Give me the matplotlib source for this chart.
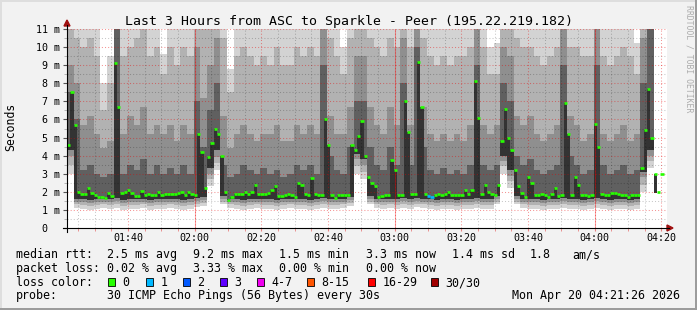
import numpy as np
import matplotlib
matplotlib.use("Agg")
import matplotlib.pyplot as plt
import matplotlib.transforms as mtransforms
from matplotlib.lines import Line2D
from matplotlib.patches import Rectangle, Polygon

W, H = 697, 310
BACK = "#f2f2f2"
plt.rcParams["font.family"] = ["DejaVu Sans Mono"]

# graph window: 01:21:40 .. 04:21:40, in minutes after midnight
START = 81 + 40 / 60.0
SPAN = 180

# median rtt (ms), one value per minute
median_ms = [
    4.6, 7.5, 5.7, 2.0, 1.88, 1.88, 2.2, 1.93, 1.82, 1.73,
    1.73, 1.65, 1.93, 1.75, 9.1, 6.7, 1.93, 2.0, 2.1, 1.93,
    1.75, 1.75, 2.05, 1.8, 1.9, 1.85, 1.8, 2.0, 1.85, 1.9,
    1.9, 1.9, 1.9, 1.95, 2.0, 1.85, 2.0, 1.9, 1.85, 5.2,
    4.2, 2.2, 3.9, 4.7, 5.5, 5.2, 4.0, 2.0, 1.55, 1.7,
    1.9, 1.9, 1.9, 2.0, 1.9, 2.0, 2.4, 1.9, 1.9, 1.9,
    1.95, 2.1, 2.3, 1.75, 1.75, 1.8, 1.9, 1.8, 1.7, 2.5,
    2.4, 1.9, 1.85, 2.75, 1.9, 1.85, 1.85, 6.0, 4.6, 1.85,
    1.65, 1.8, 1.85, 1.85, 1.8, 4.6, 4.3, 5.1, 5.9, 4.0,
    2.8, 2.5, 2.3, 1.7, 1.75, 1.8, 1.85, 3.75, 3.2, 1.85,
    1.85, 7.0, 5.3, 1.9, 1.9, 9.2, 6.7, 1.9, 1.75, 1.7,
    1.85, 1.9, 1.85, 1.9, 2.0, 1.85, 1.85, 1.8, 1.85, 2.1,
    1.9, 2.1, 8.1, 6.1, 1.9, 2.4, 2.0, 1.9, 1.85, 2.4,
    4.8, 6.6, 5.0, 4.3, 3.2, 2.3, 1.95, 1.7, 2.8, 2.5,
    1.85, 1.8, 1.9, 1.85, 1.7, 1.9, 2.2, 1.75, 1.85, 6.9,
    5.2, 1.85, 2.8, 2.4, 1.85, 1.85, 1.75, 1.8, 5.75, 4.5,
    1.9, 1.8, 1.85, 1.95, 1.95, 1.9, 1.85, 1.85, 1.7, 1.8,
    1.85, 1.85, 3.3, 5.4, 7.7, 5.0, 3.0, 2.0, 3.0, np.nan,
]
# lost pings per minute
loss = [0] * 108 + [1, 1] + [0] * 70

nan = np.nan
# smoke: ping spread per 2 minutes (ms), band edges from low to high
smoke_min = [
    3.0, 1.10, 1.05, 1.00, 1.05, 1.10, 1.05, 1.10, 1.00, 1.05,
    1.05, 1.10, 1.00, 1.05, 1.05, 1.10, 1.05, 1.00, 1.05, 1.15,
    1.20, 2.30, 3.20, 1.30, 1.10, 1.05, 1.00, 1.05, 1.10, 1.05,
    1.05, 1.00, 1.05, 1.10, 1.05, 1.05, 1.00, 1.05, 1.10, 1.05,
    1.05, 1.10, 1.20, 3.00, 2.70, 1.30, 1.10, 1.05, 1.10, 1.05,
    1.10, 1.05, 1.15, 1.10, 1.05, 1.00, 1.05, 1.05, 1.00, 1.05,
    1.05, 1.10, 1.05, 1.05, 1.30, 3.00, 2.20, 1.30, 1.10, 1.05,
    1.05, 1.00, 1.05, 1.05, 1.10, 1.05, 1.05, 1.00, 1.05, 1.10,
    1.05, 1.00, 1.05, 1.05, 1.00, 1.05, 2.00, 3.30, 1.60, nan,
]
smoke_lo1 = [
    3.5, 1.30, 1.25, 1.20, 1.25, 1.30, 1.25, 1.30, 1.20, 1.25,
    1.25, 1.30, 1.20, 1.25, 1.25, 1.30, 1.25, 1.20, 1.25, 1.35,
    1.40, 2.70, 3.60, 1.45, 1.30, 1.25, 1.20, 1.25, 1.30, 1.25,
    1.25, 1.20, 1.25, 1.30, 1.25, 1.25, 1.20, 1.25, 1.30, 1.25,
    1.25, 1.30, 1.40, 3.40, 3.10, 1.45, 1.30, 1.25, 1.30, 1.25,
    1.30, 1.25, 1.35, 1.30, 1.25, 1.20, 1.25, 1.25, 1.20, 1.25,
    1.25, 1.30, 1.25, 1.25, 1.45, 3.40, 2.60, 1.45, 1.30, 1.25,
    1.25, 1.20, 1.25, 1.25, 1.30, 1.25, 1.25, 1.20, 1.25, 1.30,
    1.25, 1.20, 1.25, 1.25, 1.20, 1.25, 2.40, 3.70, 1.75, nan,
]
smoke_lo2 = [
    4.0, 1.45, 1.42, 1.38, 1.42, 1.45, 1.42, 1.48, 1.38, 1.42,
    1.42, 1.45, 1.38, 1.42, 1.42, 1.45, 1.42, 1.38, 1.42, 1.50,
    1.55, 3.00, 3.90, 1.60, 1.45, 1.42, 1.38, 1.42, 1.45, 1.42,
    1.42, 1.38, 1.42, 1.45, 1.42, 1.42, 1.38, 1.42, 1.48, 1.42,
    1.42, 1.45, 1.55, 3.80, 3.50, 1.60, 1.45, 1.42, 1.45, 1.42,
    1.48, 1.42, 1.50, 1.45, 1.42, 1.38, 1.42, 1.42, 1.38, 1.42,
    1.42, 1.48, 1.42, 1.42, 1.60, 3.70, 2.90, 1.60, 1.45, 1.42,
    1.42, 1.38, 1.42, 1.42, 1.48, 1.42, 1.42, 1.38, 1.42, 1.48,
    1.42, 1.38, 1.42, 1.42, 1.38, 1.42, 2.80, 4.00, 1.85, nan,
]
smoke_lo3 = [
    4.3, 1.62, 1.60, 1.55, 1.60, 1.62, 1.58, 1.65, 1.55, 1.60,
    1.60, 1.62, 1.55, 1.60, 1.60, 1.62, 1.60, 1.55, 1.60, 1.68,
    1.72, 3.30, 4.30, 1.75, 1.62, 1.60, 1.55, 1.60, 1.62, 1.60,
    1.60, 1.55, 1.60, 1.62, 1.60, 1.60, 1.55, 1.60, 1.65, 1.60,
    1.60, 1.62, 1.72, 4.10, 3.80, 1.75, 1.62, 1.60, 1.62, 1.60,
    1.65, 1.60, 1.68, 1.62, 1.60, 1.55, 1.60, 1.60, 1.55, 1.60,
    1.60, 1.65, 1.60, 1.60, 1.75, 4.00, 3.20, 1.75, 1.62, 1.60,
    1.60, 1.55, 1.60, 1.60, 1.65, 1.60, 1.60, 1.55, 1.60, 1.65,
    1.60, 1.55, 1.60, 1.60, 1.55, 1.60, 3.10, 4.30, 1.95, nan,
]
smoke_hi3 = [
    7.5, 6.0, 3.2, 3.5, 3.0, 2.8, 3.0, 11.5, 3.0, 3.5,
    3.2, 3.8, 3.0, 3.5, 3.0, 3.3, 3.0, 3.5, 3.0, 7.0,
    4.5, 6.5, 8.0, 3.5, 2.8, 3.0, 3.5, 3.2, 3.0, 3.3,
    3.0, 3.2, 2.8, 3.0, 3.5, 3.2, 3.5, 3.0, 9.0, 4.0,
    3.2, 3.0, 4.5, 7.0, 7.0, 4.5, 3.5, 3.2, 4.5, 3.5,
    8.0, 3.5, 10.0, 4.5, 3.2, 3.0, 3.3, 3.0, 3.2, 3.0,
    3.5, 9.0, 3.5, 3.2, 3.5, 8.0, 7.0, 4.0, 3.5, 3.8,
    3.2, 3.0, 3.2, 3.5, 9.0, 4.0, 3.5, 3.0, 3.2, 9.0,
    3.5, 3.0, 3.2, 3.5, 3.0, 3.2, 8.0, 11.0, 5.0, nan,
]
smoke_hi2 = [
    9.0, 8.0, 5.7, 6.2, 5.2, 4.4, 4.8, 12.0, 5.2, 6.2,
    5.7, 6.7, 5.2, 5.7, 5.2, 5.7, 4.8, 5.7, 5.2, 10.0,
    7.2, 9.0, 10.5, 6.2, 4.4, 5.2, 5.7, 5.2, 4.8, 5.2,
    5.2, 5.7, 4.8, 4.8, 5.7, 5.2, 5.7, 5.2, 11.0, 6.2,
    5.2, 5.2, 6.7, 9.5, 9.5, 6.7, 5.7, 5.2, 6.7, 5.7,
    10.5, 5.7, 11.5, 6.7, 5.2, 4.8, 5.2, 4.8, 5.2, 4.8,
    5.7, 11.0, 5.7, 5.2, 5.7, 10.0, 9.5, 6.2, 5.7, 6.2,
    5.2, 4.8, 5.2, 5.7, 11.0, 6.2, 5.7, 4.8, 5.2, 11.0,
    5.2, 4.8, 5.2, 5.7, 4.8, 5.2, 10.5, 12.0, 8.0, nan,
]
smoke_hi1 = [
    11.0, 10.5, 10.0, 10.5, 9.5, 6.5, 8.0, 12.0, 9.5, 10.0,
    10.5, 11.0, 9.5, 10.0, 8.5, 10.0, 9.0, 10.0, 9.5, 12.0,
    11.0, 11.5, 12.0, 10.5, 7.5, 9.5, 10.0, 9.5, 9.0, 9.5,
    9.0, 10.0, 9.0, 9.0, 10.0, 9.5, 10.0, 9.5, 12.0, 10.5,
    9.5, 8.5, 10.5, 11.5, 11.5, 10.5, 10.0, 9.5, 10.5, 10.0,
    12.0, 10.0, 12.0, 10.5, 9.5, 9.0, 9.5, 9.0, 9.5, 9.5,
    10.0, 12.0, 10.0, 8.5, 8.5, 11.5, 11.5, 10.5, 10.0, 10.0,
    9.5, 9.0, 9.5, 10.0, 12.0, 10.0, 10.0, 9.5, 9.5, 12.0,
    9.5, 9.0, 9.5, 10.0, 9.5, 8.5, 12.0, 12.0, 11.0, nan,
]
smoke_max = [
    12, 12, 12, 12, 12, 8.0, 9.5, 12, 12, 12,
    12, 12, 12, 12, 9.6, 12, 12, 12, 12, 12,
    12, 12, 12, 12, 8.8, 12, 12, 12, 12, 12,
    12, 12, 12, 12, 12, 12, 12, 12, 12, 12,
    12, 10.0, 12, 12, 12, 12, 12, 12, 12, 12,
    12, 12, 12, 12, 12, 12, 12, 12, 12, 12,
    12, 12, 12, 10.0, 10.2, 12, 12, 12, 12, 12,
    12, 12, 12, 12, 12, 12, 12, 12, 12, 12,
    12, 12, 12, 12, 12, 10.2, 12, 12, 12, nan,
]

loss_labels = ["0", "1", "2", "3", "4-7", "8-15", "16-29", "30/30"]
loss_colors = ["#26ff00", "#00b8ff", "#0059ff", "#5e00ff", "#f000f0",
               "#ff5500", "#ff0000", "#a10000"]

X0, X1, YB, YT = 67, 667, 228, 29


def fx(x):
    return x / W


def fy(y):
    return 1 - y / H


fig = plt.figure(figsize=(W / 100, H / 100), dpi=100, facecolor=BACK)
ax = fig.add_axes([fx(X0), fy(YB), (X1 - X0) / W, (YB - YT) / H])
ax.set_facecolor("white")
ax.set_xlim(START, START + SPAN)
ax.set_ylim(0, 11)
for s in ax.spines.values():
    s.set_visible(False)

# smoke
t2 = START + 2 * np.arange(91)
bands = [(smoke_min, smoke_max, "#d3d3d3"),
         (smoke_lo1, smoke_hi1, "#b2b2b2"),
         (smoke_lo2, smoke_hi2, "#8f8f8f"),
         (smoke_lo3, smoke_hi3, "#606060")]
for lo, hi, c in bands:
    lo = np.append(lo, lo[-1])
    hi = np.append(hi, hi[-1])
    ax.fill_between(t2, lo, hi, step="post", color=c, lw=0, zorder=1)

t1 = START + np.arange(181)
med = np.array(median_ms)
core_lo = np.repeat(smoke_lo3, 2)
ax.fill_between(t1, np.append(core_lo, core_lo[-1]), np.append(med, med[-1]),
                step="post", color="#333333", lw=0, zorder=2)

# grid (translucent, like rrdtool)
minor_c = (0, 0, 0, 0.22)
major_c = (0.9, 0, 0, 0.42)
dots = (0, (1, 2))
for v in np.arange(0.5, 11, 1.0):
    ax.axhline(v, color=minor_c, lw=0.75, ls=dots, zorder=3)
for v in range(1, 12):
    ax.axhline(v, color=major_c, lw=0.75, ls=dots, zorder=3)
for m in range(85, 265, 5):
    if m % 20:
        ax.axvline(m, color=minor_c, lw=0.75, ls=dots, zorder=3)
for m in range(100, 265, 20):
    ax.axvline(m, color=major_c, lw=0.75, ls=dots, zorder=3)
for m in (120, 180, 240):
    ax.axvline(m, color=(0.95, 0, 0, 0.35), lw=0.75, zorder=3)

# median line, coloured by loss
ok = ~np.isnan(med)
cols = np.array([loss_colors[l] for l in loss])
ax.hlines(med[ok], t1[:-1][ok], t1[1:][ok], colors=cols[ok], lw=1.9, zorder=5)

# ticks
ax.set_xticks(range(100, 265, 20))
ax.set_xticks(range(85, 265, 5), minor=True)
ax.set_yticks(range(12))
ax.set_yticks(np.arange(0.5, 11, 1.0), minor=True)
ax.tick_params(axis="x", which="both", direction="out", length=2,
               color="#e88080", labelbottom=False)
ax.tick_params(axis="y", which="major", direction="out", length=3,
               color="#555555", labelleft=False)
ax.tick_params(axis="y", which="minor", direction="out", length=2,
               color="#aaaaaa", labelleft=False)

xtr = mtransforms.blended_transform_factory(ax.transData, fig.transFigure)
ytr = mtransforms.blended_transform_factory(fig.transFigure, ax.transData)
for m in range(100, 265, 20):
    ax.text(m, fy(241), "%02d:%02d" % (m // 60, m % 60), ha="center",
            va="baseline", fontsize=7.2, transform=xtr)
for v in range(12):
    lab = "%d m" % v if v else "0"
    xr = 59.5 if v else 47.5
    ax.text(fx(xr), v, lab, ha="right", va="center_baseline", fontsize=7.2,
            transform=ytr)

# axis lines with arrows
fig.add_artist(Line2D([fx(63), fx(669)], [fy(228), fy(228)], color="black",
                      lw=0.8))
fig.add_artist(Line2D([fx(67), fx(67)], [fy(232), fy(25)], color="black",
                      lw=0.8))
fig.add_artist(Polygon([(fx(667), fy(225)), (fx(673), fy(228)), (fx(667), fy(231))],
                       closed=True, color="#a01010"))
fig.add_artist(Polygon([(fx(64), fy(26)), (fx(67), fy(20)), (fx(70), fy(26))],
                       closed=True, color="#a01010"))

# texts
fig.text(fx(349), fy(24.5), "Last 3 Hours from ASC to Sparkle - Peer (195.22.219.182)",
         ha="center", va="baseline", fontsize=9.5)
fig.text(fx(11), fy(127), "Seconds", rotation=90, ha="center", va="center",
         fontsize=8.3)
fig.text(fx(688.5), fy(59), "RRDTOOL / TOBI OETIKER", rotation=-90, ha="center",
         va="center", fontsize=5.9, color="#acacac")

FS = 8.35
rows = [258, 272, 286, 299.5]
xs = [107.3, 193.3, 279.3, 366, 451.7, 529.3, 572.3]
fig.text(fx(16), fy(rows[0]), "median rtt:", fontsize=FS, va="baseline")
for x, s in zip(xs, ["2.5 ms avg", "9.2 ms max", "1.5 ms min", "3.3 ms now",
                     "1.4 ms sd", "1.8", "am/s"]):
    fig.text(fx(x), fy(rows[0]), s, fontsize=FS, va="baseline")
fig.text(fx(16), fy(rows[1]), "packet loss:", fontsize=FS, va="baseline")
for x, s in zip(xs, ["0.02 % avg", "3.33 % max", "0.00 % min", "0.00 % now"]):
    fig.text(fx(x), fy(rows[1]), s, fontsize=FS, va="baseline")
fig.text(fx(16), fy(rows[2]), "loss color:", fontsize=FS, va="baseline")
box_x = [108, 146, 183, 220, 257, 307, 368, 431]
for bx, lab, c in zip(box_x, loss_labels, loss_colors):
    fig.add_artist(Rectangle((fx(bx), fy(rows[2])), 7 / W, 8 / H,
                             facecolor=c, edgecolor="black", lw=0.6))
    fig.text(fx(bx + 14.5), fy(rows[2]), lab, fontsize=FS, va="baseline")
fig.text(fx(16), fy(rows[3]), "probe:", fontsize=FS, va="baseline")
fig.text(fx(107.3), fy(rows[3]), "30 ICMP Echo Pings (56 Bytes) every 30s",
         fontsize=FS, va="baseline")
fig.text(fx(680), fy(rows[3]), "Mon Apr 20 04:21:26 2026", fontsize=FS,
         va="baseline", ha="right")

# frame
fig.add_artist(Rectangle((0, 0), 1, 2 / H, color="#9c9c9c", lw=0))
fig.add_artist(Rectangle((1 - 2 / W, 0), 2 / W, 1, color="#9c9c9c", lw=0))
fig.add_artist(Rectangle((0, 1 - 2 / H), 1 - 2 / W, 2 / H, color="#dedede", lw=0))
fig.add_artist(Rectangle((0, 2 / H), 2 / W, 1 - 2 / H, color="#dedede", lw=0))

fig.savefig("out.png", dpi=100, facecolor=BACK)
